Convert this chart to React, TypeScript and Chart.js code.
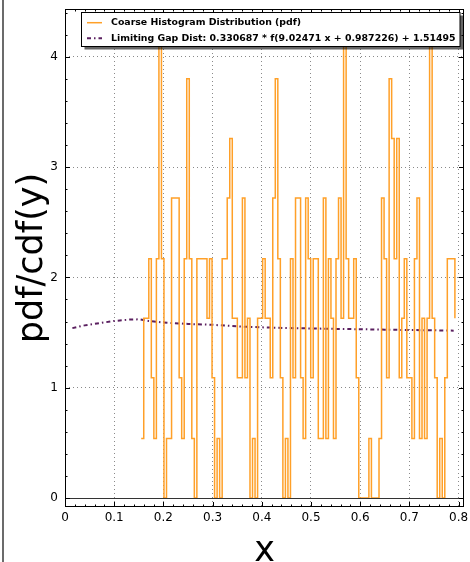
import React, { useEffect, useRef } from 'react';
import { Chart, registerables } from 'chart.js';

Chart.register(...registerables);

// ---- data ----
const binStart = 0.1549;
const binWidth = 0.005142;
const histValues = [
  0.54, 1.63, 1.63, 2.17, 1.09, 0.54, 2.17, 4.35, 2.17, 0,
  0.54, 0.54, 2.72, 2.72, 2.72, 1.09, 0.54, 2.17, 3.8, 2.17,
  0.54, 0, 2.17, 2.17, 2.17, 2.17, 1.63, 2.17, 1.09, 0,
  0.54, 0, 2.17, 2.17, 2.72, 3.26, 1.63, 1.63, 1.09, 1.09,
  2.72, 1.09, 1.63, 0, 0.54, 0, 1.63, 1.63, 2.17, 1.63,
  1.63, 1.09, 2.72, 3.8, 2.17, 1.09, 0, 0.54, 0, 2.17,
  1.09, 2.72, 2.72, 1.09, 0.54, 2.72, 2.17, 1.09, 2.17, 2.17,
  0.54, 0.54, 2.72, 0.54, 2.17, 1.63, 0.54, 2.17, 2.72, 1.63,
  4.35, 2.17, 1.63, 1.63, 2.17, 1.09, 0, 0, 0, 0,
  0.54, 0, 0, 0, 0.54, 2.72, 2.17, 1.09, 3.8, 3.26,
  2.17, 3.26, 1.09, 1.63, 2.17, 1.09, 1.09, 0.54, 2.17, 2.72,
  0.54, 1.63, 0.54, 1.63, 4.35, 1.63, 1.09, 0, 0.54, 0,
  1.09, 2.17, 2.17, 2.17, 1.63,
];
const fitX = [0.015, 0.04, 0.07, 0.1, 0.13, 0.15, 0.17, 0.2, 0.25, 0.3, 0.35, 0.4, 0.45, 0.5, 0.55, 0.6, 0.65, 0.7, 0.75, 0.79];
const fitY = [1.54, 1.565, 1.585, 1.605, 1.617, 1.62, 1.605, 1.59, 1.578, 1.57, 1.556, 1.547, 1.541, 1.537, 1.533, 1.53, 1.526, 1.523, 1.52, 1.517];
const seriesLabels = [
  'Coarse Histogram Distribution (pdf)',
  'Limiting Gap Dist: 0.330687 * f(9.02471 x + 0.987226) + 1.51495',
];
const xTitle = 'x';
const yTitle = 'pdf/cdf(y)';
const xMin = 0, xMax = 0.811, xStep = 0.1, xMinor = 0.02;
const yMin = -0.0816, yMax = 4.433, yStep = 1, yMinor = 0.2;

const ORANGE = 'rgb(255,160,40)';
const PURPLE = '#5a1f5f';
const FIT_DASH = [4, 3, 1.5, 3];

export default function App() {
  const ref = useRef<HTMLCanvasElement>(null);

  useEffect(() => {
    document.body.style.margin = '0';
    const canvas = ref.current!;
    const histData = histValues.map((v, i) => ({ x: binStart + i * binWidth, y: v }));
    const fitData = fitX.map((x, i) => ({ x, y: fitY[i] }));

    const decoPlugin = {
      id: 'deco',
      afterDraw(chart: any) {
        const { ctx, chartArea: a } = chart;
        const xs = chart.scales.x;
        const ys = chart.scales.y;
        ctx.save();
        // figure left border
        ctx.fillStyle = '#6b6b6b';
        ctx.fillRect(2, 0, 2, chart.height);
        // zero line
        ctx.strokeStyle = '#333';
        ctx.lineWidth = 1;
        const y0 = Math.round(ys.getPixelForValue(0)) + 0.5;
        ctx.beginPath();
        ctx.moveTo(a.left, y0);
        ctx.lineTo(a.right, y0);
        ctx.stroke();
        // frame
        ctx.strokeStyle = '#000';
        ctx.strokeRect(a.left + 0.5, a.top + 0.5, a.right - a.left - 1, a.bottom - a.top - 1);
        const seg = (x1: number, y1: number, x2: number, y2: number) => {
          ctx.beginPath();
          ctx.moveTo(x1, y1);
          ctx.lineTo(x2, y2);
          ctx.stroke();
        };
        // x ticks
        const nX = Math.floor(xMax / xMinor + 1e-6);
        for (let i = 0; i <= nX; i++) {
          const v = i * xMinor;
          const px = Math.round(xs.getPixelForValue(v)) + 0.5;
          const len = i % 5 === 0 ? 5 : 2.5;
          seg(px, a.bottom, px, a.bottom - len);
          seg(px, a.top, px, a.top + len);
        }
        // y ticks
        const nY = Math.floor(yMax / yMinor + 1e-6);
        for (let i = 0; i <= nY; i++) {
          const v = i * yMinor;
          const py = Math.round(ys.getPixelForValue(v)) + 0.5;
          const len = i % 5 === 0 ? 5 : 2.5;
          seg(a.left, py, a.left + len, py);
          seg(a.right, py, a.right - len, py);
        }
        // legend
        const lx = 81.5, ly = 12.5, lw = 378.5, lh = 34;
        ctx.fillStyle = 'rgba(0,0,0,0.6)';
        ctx.fillRect(lx + 3, ly + 3, lw, lh);
        ctx.fillStyle = '#fff';
        ctx.fillRect(lx, ly, lw, lh);
        ctx.strokeStyle = '#000';
        ctx.lineWidth = 1;
        ctx.strokeRect(lx, ly, lw, lh);
        const rows = [22.7, 38.3];
        const ds = chart.data.datasets;
        ds.forEach((d: any, i: number) => {
          ctx.save();
          ctx.strokeStyle = d.borderColor;
          ctx.lineWidth = d.borderWidth;
          ctx.setLineDash(d.borderDash || []);
          seg(87, rows[i], 102, rows[i]);
          ctx.restore();
          ctx.fillStyle = '#000';
          ctx.font = 'bold 9.4px "DejaVu Sans"';
          ctx.textBaseline = 'middle';
          ctx.textAlign = 'left';
          ctx.fillText(d.label, 111, rows[i]);
        });
        ctx.restore();
      },
    };

    const chart = new Chart(canvas, {
      type: 'line',
      data: {
        datasets: [
          {
            label: seriesLabels[0],
            data: histData,
            borderColor: ORANGE,
            borderWidth: 1.5,
            stepped: 'before',
            pointRadius: 0,
            fill: false,
          },
          {
            label: seriesLabels[1],
            data: fitData,
            borderColor: PURPLE,
            borderWidth: 2,
            borderDash: FIT_DASH,
            pointRadius: 0,
            tension: 0,
            fill: false,
          },
        ],
      },
      options: {
        animation: false,
        responsive: false,
        events: [],
        layout: { padding: { top: 9, right: 6, left: 0, bottom: 0 } },
        plugins: { legend: { display: false }, tooltip: { enabled: false } },
        scales: {
          x: {
            type: 'linear',
            min: xMin,
            max: xMax,
            border: { display: false, dash: [1, 3] },
            grid: { color: '#8a8a8a', lineWidth: 1, drawTicks: false },
            ticks: {
              stepSize: xStep,
              includeBounds: false,
              autoSkip: false,
              maxRotation: 0,
              padding: 4,
              color: '#000',
              font: { size: 12, family: '"DejaVu Sans"' },
            },
            title: {
              display: true,
              text: xTitle,
              color: '#000',
              font: { size: 35, family: '"DejaVu Sans"', lineHeight: 0.55 },
              padding: 0,
            },
            afterFit(scale: any) {
              scale.height = 55;
              scale.paddingLeft = 0;
              scale.paddingRight = 0;
            },
          },
          y: {
            type: 'linear',
            min: yMin,
            max: yMax,
            border: { display: false, dash: [1, 3] },
            grid: {
              color: (c: any) => (c.tick && c.tick.value === 0 ? 'rgba(0,0,0,0)' : '#8a8a8a'),
              lineWidth: 1,
              drawTicks: false,
            },
            ticks: {
              stepSize: yStep,
              includeBounds: false,
              padding: 7,
              color: '#000',
              font: { size: 12, family: '"DejaVu Sans"' },
            },
            title: {
              display: true,
              text: yTitle,
              color: '#000',
              font: { size: 35, family: '"DejaVu Sans"', lineHeight: 1 },
              padding: { top: 15, bottom: 0 },
            },
            afterFit(scale: any) {
              scale.width = 65;
              scale.paddingTop = 0;
              scale.paddingBottom = 0;
            },
          },
        },
      },
      plugins: [decoPlugin],
    });
    return () => chart.destroy();
  }, []);

  return (
    <div style={{ width: 470, height: 562 }}>
      <canvas ref={ref} width={470} height={562} style={{ display: 'block' }} />
    </div>
  );
}
